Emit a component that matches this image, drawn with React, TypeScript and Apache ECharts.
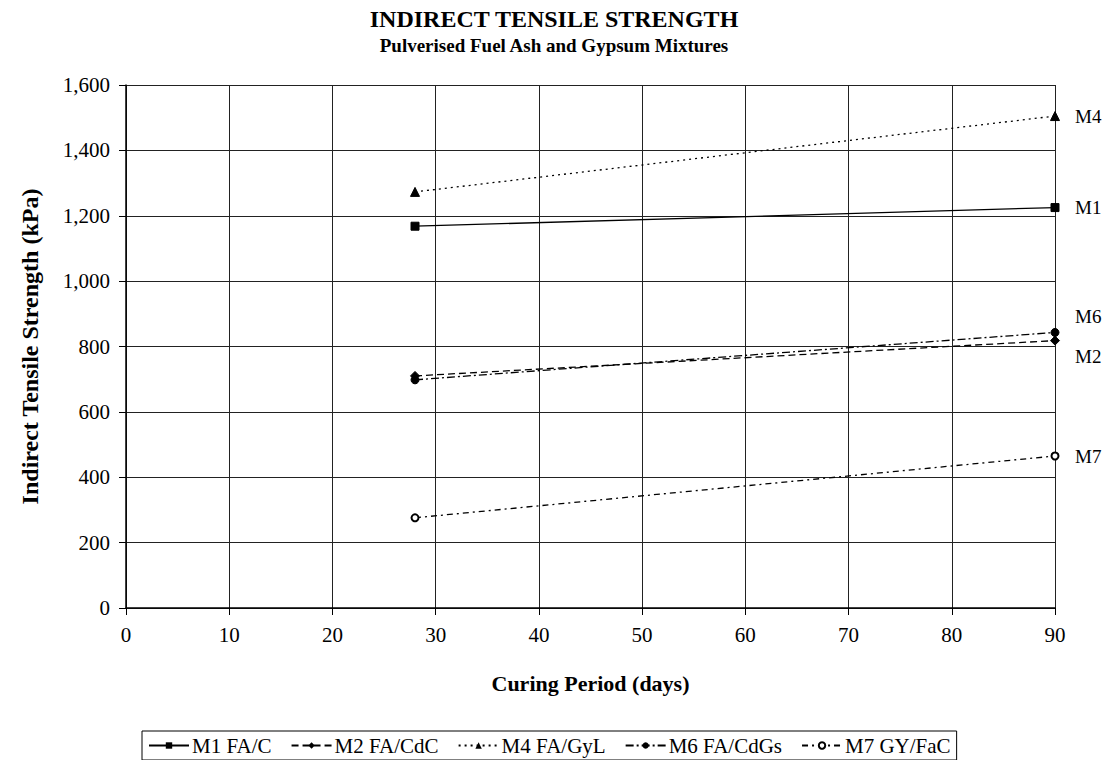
import React, { useEffect, useRef } from "react";
import * as echarts from "echarts";

const days = [28, 90];
const m1 = [1168, 1225];
const m2 = [710, 818];
const m4 = [1273, 1505];
const m6 = [698, 843];
const m7 = [276, 465];
const xTicks = { min: 0, max: 90, interval: 10 };
const yTicks = { min: 0, max: 1600, interval: 200 };
const legendNames = ["M1 FA/C", "M2 FA/CdC", "M4 FA/GyL", "M6 FA/CdGs", "M7 GY/FaC"];

const FONT = "'Liberation Serif', 'Times New Roman', serif";

function pts(vals: number[]) {
  return days.map((d, i) => [d, vals[i]]);
}

export default function App() {
  const ref = useRef<HTMLDivElement>(null);
  useEffect(() => {
    if (!ref.current) return;
    const chart = echarts.init(ref.current, undefined, { renderer: "svg" });
    const mk = (
      name: string,
      tag: string,
      vals: number[],
      symbol: string,
      type: any,
      labelOffset: number[],
      symbolSize = 8
    ) => ({
      name,
      type: "line",
      data: pts(vals),
      symbol,
      symbolSize,
      showSymbol: true,
      itemStyle: { color: "#000", borderColor: "#000" },
      lineStyle: { color: "#000", width: 1.3, type },
      endLabel: {
        show: true,
        formatter: tag,
        offset: labelOffset,
        fontFamily: FONT,
        fontSize: 19,
        color: "#000",
      },
      emphasis: { disabled: true },
    });
    chart.setOption({
      animation: false,
      backgroundColor: "#fff",
      title: [
        {
          text: "INDIRECT TENSILE STRENGTH",
          left: "center",
          top: 2,
          textStyle: { fontFamily: FONT, fontSize: 24, fontWeight: "bold", color: "#000" },
        },
        {
          text: "Pulverised Fuel Ash and Gypsum Mixtures",
          left: "center",
          top: 31,
          textStyle: { fontFamily: FONT, fontSize: 19, fontWeight: "bold", color: "#000" },
        },
      ],
      grid: { left: 126, right: 53, top: 85, bottom: 152, containLabel: false },
      xAxis: {
        type: "value",
        ...xTicks,
        name: "Curing Period (days)",
        nameLocation: "middle",
        nameGap: 64,
        nameTextStyle: { fontFamily: FONT, fontSize: 22, fontWeight: "bold", color: "#000" },
        axisLine: { show: true, lineStyle: { color: "#000", width: 1.5 } },
        axisTick: { show: true, length: 7, lineStyle: { color: "#000" } },
        axisLabel: { fontFamily: FONT, fontSize: 21, color: "#000", margin: 16 },
        splitLine: { show: true, lineStyle: { color: "#222", width: 1 } },
      },
      yAxis: {
        type: "value",
        ...yTicks,
        name: "Indirect Tensile Strength (kPa)",
        nameLocation: "middle",
        nameGap: 84,
        nameRotate: 90,
        nameTextStyle: { fontFamily: FONT, fontSize: 24, fontWeight: "bold", color: "#000" },
        axisLine: { show: true, lineStyle: { color: "#000", width: 1.5 } },
        axisTick: { show: true, length: 7, lineStyle: { color: "#000" } },
        axisLabel: {
          fontFamily: FONT,
          fontSize: 21,
          color: "#000",
          margin: 16,
          formatter: (v: number) => v.toLocaleString("en-US"),
        },
        splitLine: { show: true, lineStyle: { color: "#222", width: 1 } },
      },
      legend: {
        left: 142,
        top: 731,
        itemWidth: 40,
        itemHeight: 8,
        itemGap: 19,
        padding: [4, 6, 4, 6],
        borderColor: "#000",
        borderWidth: 1,
        textStyle: { fontFamily: FONT, fontSize: 21, color: "#000", padding: [0, 0, 0, -2] },
        data: legendNames,
      },
      series: [
        mk(legendNames[0], "M1", m1, "rect", "solid", [12, 0], 8),
        mk(legendNames[1], "M2", m2, "diamond", [7, 4], [12, 16], 9),
        mk(legendNames[2], "M4", m4, "triangle", [2, 4], [12, 0], 9),
        mk(legendNames[3], "M6", m6, "circle", [8, 3, 2, 3], [12, -16], 8),
        mk(legendNames[4], "M7", m7, "emptyCircle", [6, 4, 2, 4], [12, 0], 7),
      ],
    });
    return () => chart.dispose();
  }, []);
  return (
    <div
      ref={ref}
      style={{ position: "fixed", left: 0, top: 0, width: 1108, height: 760 }}
    />
  );
}
